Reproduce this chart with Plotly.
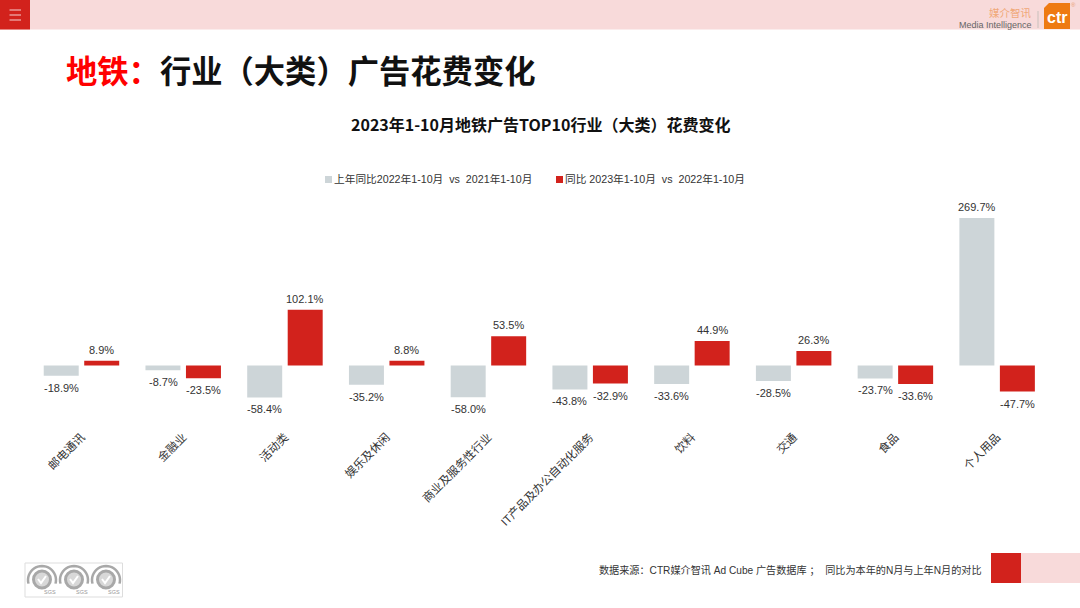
import math
import plotly.graph_objects as go

categories = ["邮电通讯", "金融业", "活动类", "娱乐及休闲", "商业及服务性行业",
              "IT产品及办公自动化服务", "饮料", "交通", "食品", "个人用品"]
prev_year = [-18.9, -8.7, -58.4, -35.2, -58.0, -43.8, -33.6, -28.5, -23.7, 269.7]
this_year = [8.9, -23.5, 102.1, 8.8, 53.5, -32.9, 44.9, 26.3, -33.6, -47.7]
prev_name = "上年同比2022年1-10月  vs  2021年1-10月"
this_name = "同比 2023年1-10月  vs  2022年1-10月"
title_red = "地铁："
title_black = "行业（大类）广告花费变化"
subtitle = "2023年1-10月地铁广告TOP10行业（大类）花费变化"
source = "数据来源：CTR媒介智讯 Ad Cube 广告数据库 ；  同比为本年的N月与上年N月的对比"

W, H = 1080, 608
FONT = "Liberation Sans, Noto Sans CJK SC, sans-serif"
CJK = "Noto Sans CJK SC, sans-serif"
GRAY, RED, PINK = "#CDD5D8", "#D2221C", "#F8DADA"
BADGE = "#A8A8A8"


def px(x):
    return x / W


def py(y):
    return 1 - y / H


def rect(x0, y0, x1, y1, fill, line=None, lw=0):
    return dict(type="rect", xref="paper", yref="paper", x0=px(x0), x1=px(x1), y0=py(y0), y1=py(y1),
                fillcolor=fill, line=dict(color=line or fill, width=lw), layer="below")


def note(x, y, text, size, color="#222", anchor="left", family=CJK):
    return dict(xref="paper", yref="paper", x=px(x), y=py(y), text=text, showarrow=False, xanchor=anchor,
                yanchor="middle", font=dict(size=size, color=color, family=family), align=anchor)


def to_path(points):
    return "M " + " L ".join(f"{px(a):.5f},{py(b):.5f}" for a, b in points)


def arc(cx, cy, r, a0, a1, n=24):
    return [(cx + r * math.cos(math.radians(a0 + (a1 - a0) * i / n)),
             cy - r * math.sin(math.radians(a0 + (a1 - a0) * i / n))) for i in range(n + 1)]


shapes = [rect(0, 0, W, 29.5, PINK), rect(0, 0, 30, 29.5, RED),
          rect(991, 553, 1021, 583, RED), rect(1021, 553, W, 583, PINK),
          rect(25, 563, 122.5, 597, "#FFFFFF", "#DDDDDD", 1),
          rect(325, 176, 332, 183, GRAY), rect(556, 176, 563, 183, RED)]
for y in (10, 15, 20):
    shapes.append(dict(type="line", xref="paper", yref="paper", x0=px(9.5), x1=px(21), y0=py(y), y1=py(y),
                       line=dict(color="#F6D0D0", width=1)))
# logo
shapes.append(dict(type="path", xref="paper", yref="paper", fillcolor="#EE7A12", line=dict(width=0),
                   path=to_path([(1049, 3), (1070, 3), (1070, 29), (1044, 29), (1044, 8)]) + " Z"))
shapes.append(dict(type="line", xref="paper", yref="paper", x0=px(1038), x1=px(1038), y0=py(11), y1=py(28),
                   line=dict(color="#C8C0BC", width=1)))
annotations = [
    note(63.5, 69, f"<b><span style='color:#FF0000'>{title_red}</span>{title_black}</b>", 31.3, "#111111"),
    note(540, 124, f"<b>{subtitle}</b>", 16, "#111111", "center"),
    note(597, 570, source, 10.15, "#333333", "left", FONT),
    note(332, 179.5, prev_name, 10.7, "#333333", "left", FONT),
    note(563, 179.5, this_name, 10.7, "#333333", "left", FONT),
    note(1034, 12.5, "媒介智讯", 10.5, "#F0A878", "right"),
    note(1034, 25, "Media Intelligence", 9, "#666666", "right", FONT),
    note(1057, 18, "<b>ctr</b>", 16, "#FFFFFF", "center", FONT),
    note(1073, 5, "®", 6, "#E8A070", "center", FONT),
]
# certification marks
for cx in (42, 74, 106):
    shapes.append(dict(type="circle", xref="paper", yref="paper", x0=px(cx - 8.5), x1=px(cx + 8.5),
                       y0=py(588), y1=py(571), line=dict(color=BADGE, width=3),
                       fillcolor="#D8D8D8", layer="below"))
    shapes.append(dict(type="path", xref="paper", yref="paper", line=dict(color=BADGE, width=2.5),
                       path=to_path(arc(cx, 580, 14, 195, -15))))
    shapes.append(dict(type="path", xref="paper", yref="paper", line=dict(color="#FFFFFF", width=2),
                       path=to_path([(cx - 4, 579), (cx - 1, 583), (cx + 4, 576)])))
    annotations.append(note(cx + 8, 592, "SGS", 5.5, "#999999", "center", FONT))

fig = go.Figure()
for vals, name, color, shift in ((prev_year, prev_name, GRAY, -20.2), (this_year, this_name, RED, 20.2)):
    fig.add_bar(x=categories, y=vals, name=name, marker=dict(color=color, line=dict(width=0)))
    for cat, v in zip(categories, vals):
        annotations.append(dict(xref="x", yref="y", x=cat, y=v, text=f"{v:.1f}%", showarrow=False,
                                xanchor="center", yanchor="middle", xshift=shift, yshift=11 if v >= 0 else -12,
                                font=dict(size=11, color="#333333", family=FONT)))
fig.update_layout(
    width=W, height=H, autosize=False, margin=dict(l=0, r=0, t=0, b=0),
    paper_bgcolor="white", plot_bgcolor="white", showlegend=False,
    barmode="group", bargap=0.204, bargroupgap=0.136,
    font=dict(family=FONT, size=11.5, color="#333333"),
    shapes=shapes, annotations=annotations,
    xaxis=dict(domain=[px(30.6), px(1048)], showline=False, ticks="", tickangle=-45, showgrid=False,
               zeroline=False, automargin=False, ticklabelstandoff=7,
               tickfont=dict(size=11.5, color="#333333", family=FONT)),
    yaxis=dict(domain=[py(420.2), py(201.4)], range=[-100, 300], visible=False, showgrid=False,
               zeroline=False),
)
fig.write_html("out.html", config=dict(displayModeBar=False),
               post_script="document.body.style.margin='0';document.documentElement.style.overflow='hidden';")
